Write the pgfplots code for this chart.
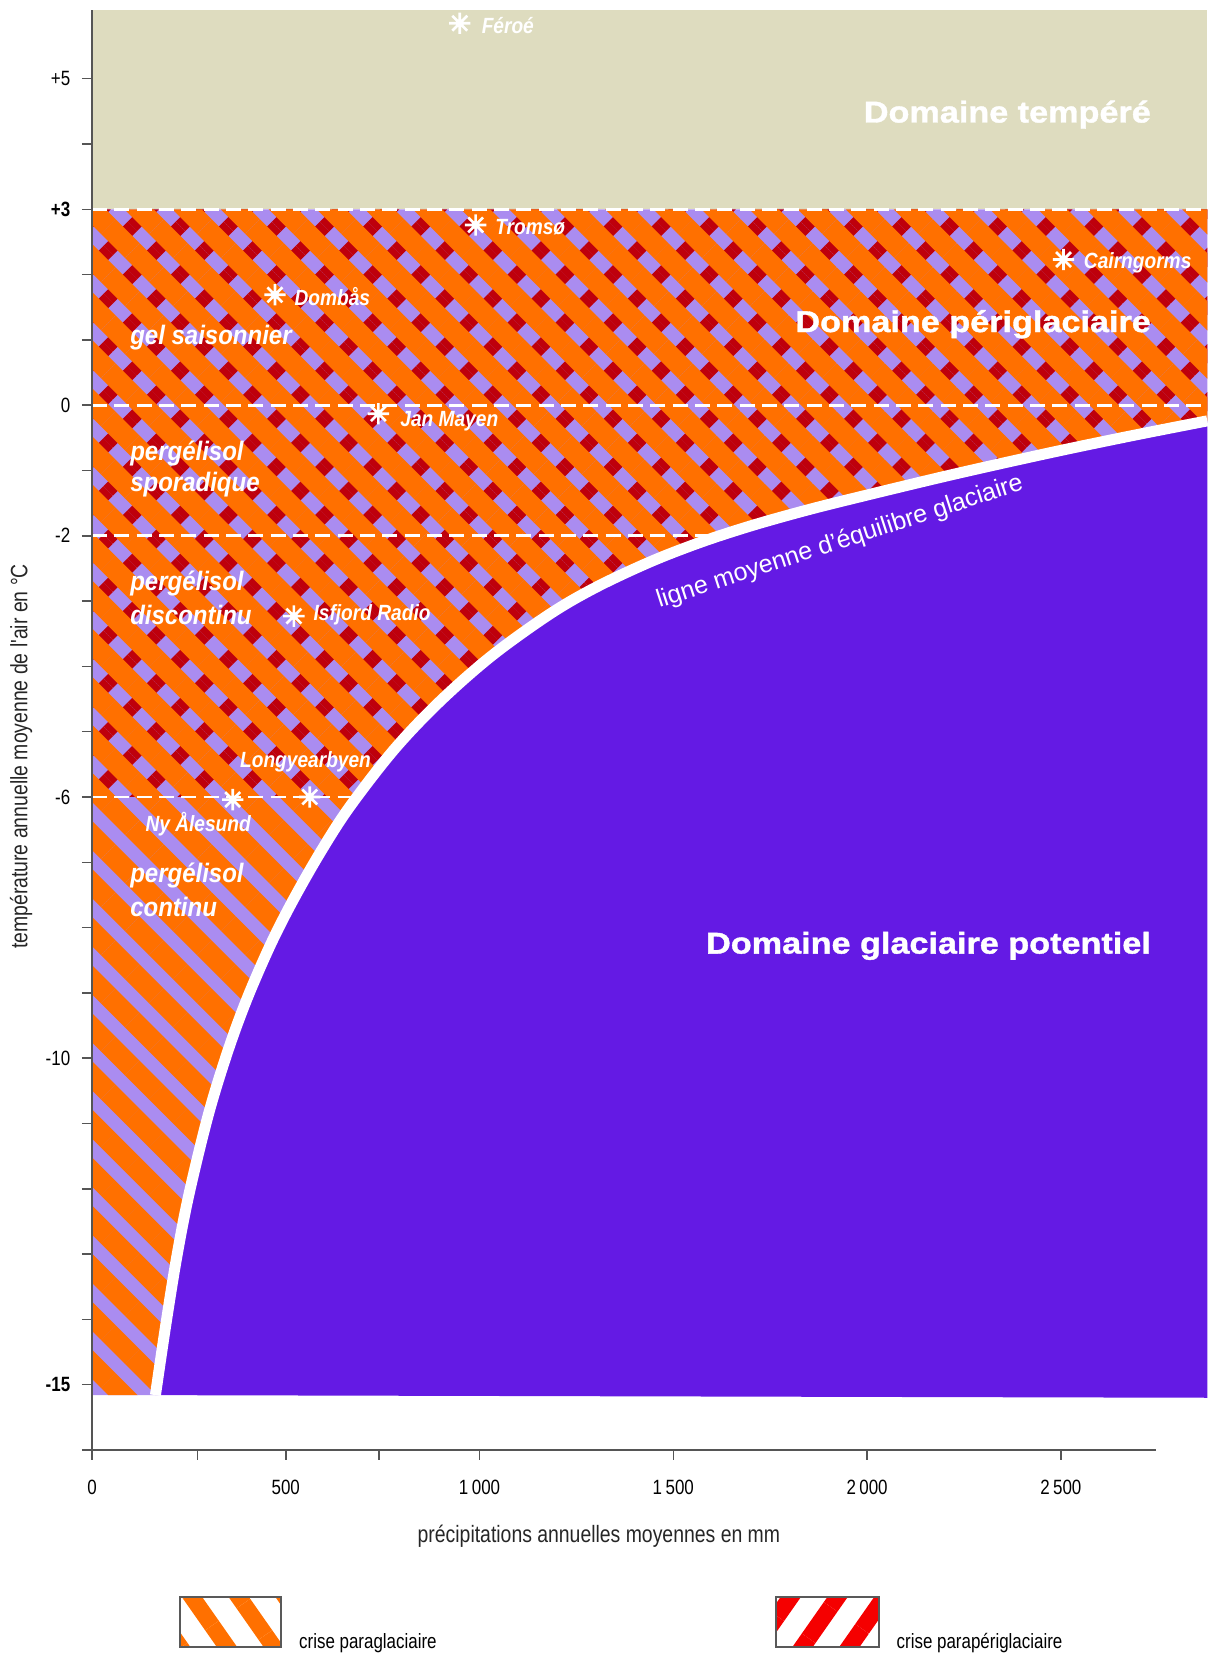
\documentclass[border=0pt]{standalone}
\usepackage{pgfplots}
\pgfplotsset{compat=1.18}
\usetikzlibrary{patterns.meta}
\usepackage{fontspec}
\setmainfont{Liberation Sans}
\newfontfamily\narrowfont[FakeStretch=0.82]{Liberation Sans}
\newfontfamily\stnfont[FakeStretch=0.87]{Liberation Sans}
\newfontfamily\regfont[FakeStretch=0.9]{Liberation Sans}
\newfontfamily\widefont[FakeStretch=1.14, BoldFeatures={FakeBold=1.3}]{Liberation Sans}

\definecolor{beigeC}{RGB}{222,220,191}
\definecolor{lavC}{RGB}{170,140,240}
\definecolor{orangeC}{RGB}{255,112,0}
\definecolor{redC}{RGB}{190,0,12}
\definecolor{purpleC}{RGB}{100,26,228}
\definecolor{legRed}{RGB}{245,0,0}
\definecolor{axisC}{RGB}{85,85,85}

\pgfdeclareplotmark{spark}{%
  \pgfpathmoveto{\pgfqpoint{-\pgfplotmarksize}{0pt}}\pgfpathlineto{\pgfqpoint{\pgfplotmarksize}{0pt}}%
  \pgfpathmoveto{\pgfqpoint{0pt}{-\pgfplotmarksize}}\pgfpathlineto{\pgfqpoint{0pt}{\pgfplotmarksize}}%
  \pgfpathmoveto{\pgfqpoint{-.7\pgfplotmarksize}{-.7\pgfplotmarksize}}\pgfpathlineto{\pgfqpoint{.7\pgfplotmarksize}{.7\pgfplotmarksize}}%
  \pgfpathmoveto{\pgfqpoint{-.7\pgfplotmarksize}{.7\pgfplotmarksize}}\pgfpathlineto{\pgfqpoint{.7\pgfplotmarksize}{-.7\pgfplotmarksize}}%
  \pgfusepathqstroke
  \pgfpathcircle{\pgfpointorigin}{.38\pgfplotmarksize}\pgfusepathqfill
}

\pgfplotstableread{
x y
163.7 -15.16
190 -14.10
218.5 -13.05
250 -12.09
300 -10.87
350 -9.90
400 -9.09
460 -8.27
518 -7.59
590 -6.84
665 -6.15
780 -5.27
897 -4.54
1031 -3.84
1181 -3.20
1300 -2.79
1440 -2.40
1570 -2.10
1699 -1.85
1830 -1.63
1956 -1.44
2215 -1.07
2471 -0.73
2681 -0.47
2878 -0.24
}\ela

\begin{document}
\begin{tikzpicture}
\begin{axis}[
  at={(0pt,0pt)}, anchor=south west,
  x=0.11625pt, y=19.59pt,
  xmin=0, xmax=2745, ymin=-16, ymax=6.05,
  axis lines=left,
  axis line style={-, draw=axisC, line width=0.45pt},
  clip=false,
  axis on top,
  tick align=outside,
  major tick length=3pt,
  tick style={draw=axisC, line width=0.45pt},
  xtick={0,500,1000,1500,2000,2500},
  xticklabels={0,500,1\,000,1\,500,2\,000,2\,500},
  extra x ticks={272,740},
  extra x tick labels={},
  ytick={-16,-15,...,5},
  yticklabels={,\textbf{-15},,,,,-10,,,,-6,,,,-2,,0,,,\textbf{+3},,+5},
  ticklabel style={font=\narrowfont\fontsize{6.2}{7}\selectfont, text=black},
  xticklabel style={yshift=-2.5pt},
]
% temperate domain
\addplot[draw=none, fill=beigeC] coordinates {(0,3) (2878,3) (2878,6.05) (0,6.05)} -- cycle;
% periglacial background
\addplot[draw=none, fill=lavC] coordinates {(0,3) (2878,3) (2878,-0.24) (2681,-0.47) (2471,-0.73) (2215,-1.07) (1956,-1.44) (1830,-1.63) (1699,-1.85) (1570,-2.10) (1440,-2.40) (1300,-2.79) (1181,-3.20) (1031,-3.84) (897,-4.54) (780,-5.27) (665,-6.15) (590,-6.84) (518,-7.59) (460,-8.27) (400,-9.09) (350,-9.90) (300,-10.87) (250,-12.09) (218.5,-13.05) (190,-14.10) (163.7,-15.16) (0,-15.16)} -- cycle;
% parapériglaciaire crosshatch (above -6)
\addplot[draw=none, pattern={Lines[angle=45,distance=10.2pt,line width=4pt]}, pattern color=redC] coordinates {(0,3) (2878,3) (2878,-0.24) (2681,-0.47) (2471,-0.73) (2215,-1.07) (1956,-1.44) (1830,-1.63) (1699,-1.85) (1570,-2.10) (1440,-2.40) (1300,-2.79) (1181,-3.20) (1031,-3.84) (897,-4.54) (780,-5.27) (684.6,-6) (0,-6)} -- cycle;
% paraglaciaire stripes
\addplot[draw=none, pattern={Lines[angle=-45,distance=10.2pt,line width=6.2pt]}, pattern color=orangeC] coordinates {(0,3) (2878,3) (2878,-0.24) (2681,-0.47) (2471,-0.73) (2215,-1.07) (1956,-1.44) (1830,-1.63) (1699,-1.85) (1570,-2.10) (1440,-2.40) (1300,-2.79) (1181,-3.20) (1031,-3.84) (897,-4.54) (780,-5.27) (665,-6.15) (590,-6.84) (518,-7.59) (460,-8.27) (400,-9.09) (350,-9.90) (300,-10.87) (250,-12.09) (218.5,-13.05) (190,-14.10) (163.7,-15.16) (0,-15.16)} -- cycle;
% glacier domain
\addplot[draw=none, fill=purpleC] table {\ela} -- (axis cs:2878,-15.2) -- cycle;
% dashed limits
\addplot[white, line width=0.8pt, dash pattern=on 4.5pt off 2.2pt] coordinates {(0,3) (2878,3)};
\addplot[white, line width=0.8pt, dash pattern=on 4.5pt off 2.2pt] coordinates {(0,0) (2878,0)};
\addplot[white, line width=0.8pt, dash pattern=on 4.5pt off 2.2pt] coordinates {(0,-2) (1610,-2)};
\addplot[white, line width=0.8pt, dash pattern=on 4.5pt off 2.2pt] coordinates {(0,-6) (684,-6)};
% equilibrium line
\addplot[white, line width=3.3pt, smooth, tension=0.55] table {\ela};
% stations
\addplot[only marks, mark=spark, mark size=3.2pt, color=white, mark options={line width=0.8pt}] coordinates {(949,5.85) (990,2.76) (2507,2.23) (472,1.69) (739,-0.13) (521,-3.23) (562,-6.0) (363,-6.04)};

\tikzset{stn/.style={font=\stnfont\bfseries\itshape\fontsize{6.6}{7}\selectfont, text=white, inner sep=0pt},
         reg/.style={font=\regfont\bfseries\itshape\fontsize{8}{9}\selectfont, text=white, inner sep=0pt, anchor=west},
         dom/.style={font=\widefont\bfseries\fontsize{9}{10}\selectfont, text=white, inner sep=0pt, anchor=east}}
\node[stn, anchor=west] at (axis cs:1004,5.82) {Féroé};
\node[stn, anchor=west] at (axis cs:1039,2.73) {Tromsø};
\node[stn, anchor=west] at (axis cs:2558,2.18) {Cairngorms};
\node[stn, anchor=west] at (axis cs:521,1.66) {Dombås};
\node[stn, anchor=west] at (axis cs:794,-0.25) {Jan Mayen};
\node[stn, anchor=west] at (axis cs:570,-3.21) {Isfjord Radio};
\node[stn] at (axis cs:551,-5.46) {Longyearbyen};
\node[stn] at (axis cs:274,-6.42) {Ny Ålesund};

\node[reg] at (axis cs:97,1.03) {gel saisonnier};
\node[reg] at (axis cs:97,-0.74) {pergélisol};
\node[reg] at (axis cs:97,-1.22) {sporadique};
\node[reg] at (axis cs:97,-2.73) {pergélisol};
\node[reg] at (axis cs:97,-3.21) {discontinu};
\node[reg] at (axis cs:97,-7.20) {pergélisol};
\node[reg] at (axis cs:97,-7.68) {continu};

\node[dom] at (axis cs:2734,4.45) {Domaine tempéré};
\node[dom] at (axis cs:2734,1.24) {Domaine périglaciaire};
\node[dom] at (axis cs:2734,-8.28) {Domaine glaciaire potentiel};

\node[rotate=18, font=\fontsize{7.5}{9}\selectfont, text=white, inner sep=0pt] at (axis cs:1930,-2.10) {ligne moyenne d'équilibre glaciaire};

\node[font=\narrowfont\fontsize{7.1}{8}\selectfont, text=black!85] at (axis cs:1308,-17.32) {précipitations annuelles moyennes en mm};
\node[rotate=90, font=\narrowfont\fontsize{7.1}{8}\selectfont, text=black!85] at (axis cs:-183,-5.38) {température annuelle moyenne de l'air en °C};
\end{axis}

% legend
\node[draw=gray!70!black, line width=0.4pt, minimum width=30.3pt, minimum height=15pt, inner sep=0pt,
      pattern={Lines[angle=-55,distance=11.5pt,line width=5pt]}, pattern color=orangeC] at (41.55pt,-51.6pt) {};
\node[draw=gray!70!black, line width=0.4pt, minimum width=30.9pt, minimum height=15pt, inner sep=0pt,
      pattern={Lines[angle=55,distance=11.5pt,line width=5pt]}, pattern color=legRed] at (220.65pt,-51.6pt) {};
\node[anchor=west, font=\narrowfont\fontsize{6.2}{7}\selectfont, inner sep=0pt] at (61.95pt,-57.9pt) {crise paraglaciaire};
\node[anchor=west, font=\narrowfont\fontsize{6.2}{7}\selectfont, inner sep=0pt] at (241.2pt,-57.9pt) {crise parapériglaciaire};

\pgfresetboundingbox
\path[use as bounding box] (-27.6pt,-62.1pt) rectangle (334.5pt,435pt);
\end{tikzpicture}
\end{document}
